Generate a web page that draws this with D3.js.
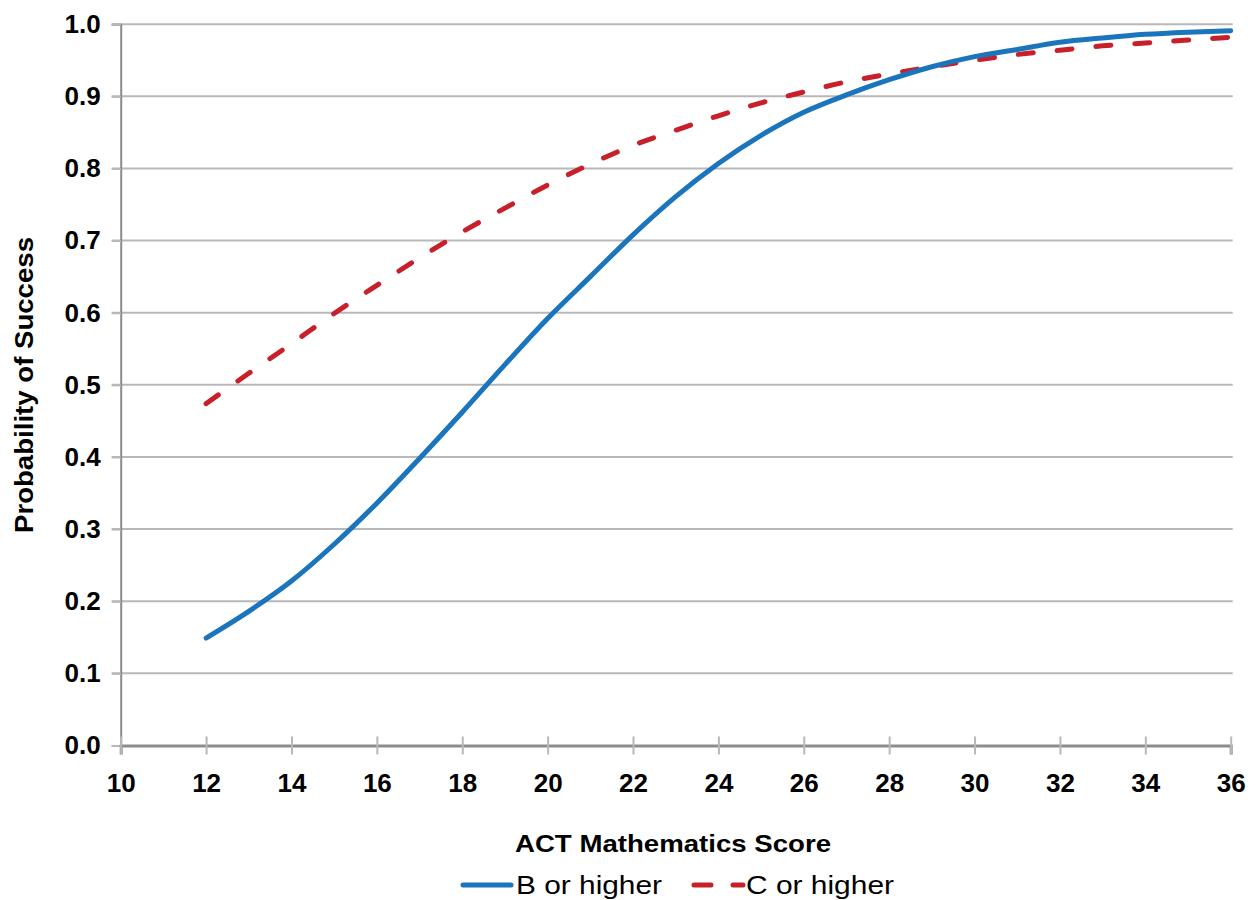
<!DOCTYPE html>
<html>
<head>
<meta charset="utf-8">
<script src="https://cdn.jsdelivr.net/npm/d3@7"></script>
<style>
  html, body { margin: 0; padding: 0; background: #fff; }
  svg { display: block; }
  text { font-family: "Liberation Sans", Arial, sans-serif; fill: #000; }
</style>
</head>
<body>
<svg id="chart" width="1256" height="900"></svg>
<script>
const scores = [12,13,14,15,16,17,18,19,20,21,22,23,24,25,26,27,28,29,30,31,32,33,34,35,36];
const bOrHigher = [0.149,0.186,0.228,0.279,0.336,0.398,0.462,0.528,0.592,0.650,0.708,0.761,0.807,0.846,0.878,0.902,0.923,0.941,0.955,0.965,0.975,0.981,0.986,0.989,0.991];
const cOrHigher = [0.474,0.516,0.557,0.599,0.638,0.676,0.712,0.745,0.777,0.806,0.832,0.853,0.873,0.891,0.906,0.920,0.931,0.941,0.950,0.958,0.964,0.970,0.974,0.978,0.982];
const xTicks = [10,12,14,16,18,20,22,24,26,28,30,32,34,36];
const yTicks = [0,0.1,0.2,0.3,0.4,0.5,0.6,0.7,0.8,0.9,1.0];
const seriesNames = ["B or higher", "C or higher"];
const xTitle = "ACT Mathematics Score";
const yTitle = "Probability of Success";

const svg = d3.select("#chart");
const L = 120.7, R = 1230.7, T = 24.2, B = 745.5;
const x = d3.scaleLinear().domain([10, 36]).range([L, R]);
const y = d3.scaleLinear().domain([0, 1]).range([B, T]);

// gridlines
svg.append("g").selectAll("line").data(yTicks.filter(d => d > 0)).join("line")
  .attr("x1", L - 9).attr("x2", R + 2)
  .attr("y1", d => y(d)).attr("y2", d => y(d))
  .attr("stroke", "#b8b8b8").attr("stroke-width", 2);

// y axis
const yAxis = svg.append("g").attr("transform", `translate(${L},0)`)
  .call(d3.axisLeft(y).tickValues(yTicks).tickFormat(d3.format(".1f")).tickSize(9).tickPadding(11));
yAxis.select(".domain").attr("stroke", "#8c8c8c").attr("stroke-width", 2);
yAxis.selectAll(".tick line").attr("stroke", "#b8b8b8").attr("stroke-width", 2);
yAxis.selectAll(".tick text").attr("font-size", 26).attr("font-weight", "bold")
  .attr("font-family", "Liberation Sans, Arial, sans-serif").attr("fill", "#000");

// x axis
const xAxis = svg.append("g").attr("transform", `translate(0,${B})`)
  .call(d3.axisBottom(x).tickValues(xTicks).tickFormat(d3.format("d")).tickSize(9).tickPadding(19));
xAxis.select(".domain").attr("stroke", "#8c8c8c").attr("stroke-width", 3);
xAxis.selectAll(".tick line").attr("y1", -9).attr("stroke", "#b8b8b8").attr("stroke-width", 2);
xAxis.selectAll(".tick text").attr("font-size", 26).attr("font-weight", "bold")
  .attr("font-family", "Liberation Sans, Arial, sans-serif").attr("fill", "#000");

// lines
const line = d3.line().x(d => x(d[0])).y(d => y(d[1])).curve(d3.curveMonotoneX);
svg.append("path").datum(scores.map((s, i) => [s, cOrHigher[i]]))
  .attr("d", line).attr("fill", "none").attr("stroke", "#c8202a")
  .attr("stroke-width", 5).attr("stroke-dasharray", "15,24").attr("stroke-linecap", "round");
svg.append("path").datum(scores.map((s, i) => [s, bOrHigher[i]]))
  .attr("d", line).attr("fill", "none").attr("stroke", "#1b75bc")
  .attr("stroke-width", 5).attr("stroke-linecap", "round");

// axis titles
svg.append("text").attr("x", 673).attr("y", 852).attr("text-anchor", "middle")
  .attr("font-size", 24).attr("font-weight", "bold")
  .attr("textLength", 316).attr("lengthAdjust", "spacingAndGlyphs").text(xTitle);
svg.append("text").attr("transform", "translate(33,385) rotate(-90)").attr("text-anchor", "middle")
  .attr("font-size", 25).attr("font-weight", "bold")
  .attr("textLength", 296).attr("lengthAdjust", "spacingAndGlyphs").text(yTitle);

// legend
const lg = svg.append("g");
lg.append("line").attr("x1", 463).attr("x2", 511).attr("y1", 885).attr("y2", 885)
  .attr("stroke", "#1b75bc").attr("stroke-width", 5).attr("stroke-linecap", "round");
lg.append("text").attr("x", 516).attr("y", 894).attr("font-size", 26)
  .attr("textLength", 146).attr("lengthAdjust", "spacingAndGlyphs").text(seriesNames[0]);
lg.append("line").attr("x1", 694).attr("x2", 743).attr("y1", 885).attr("y2", 885)
  .attr("stroke", "#c8202a").attr("stroke-width", 5).attr("stroke-linecap", "round")
  .attr("stroke-dasharray", "17,22");
lg.append("text").attr("x", 746).attr("y", 894).attr("font-size", 26)
  .attr("textLength", 148).attr("lengthAdjust", "spacingAndGlyphs").text(seriesNames[1]);
</script>
</body>
</html>
